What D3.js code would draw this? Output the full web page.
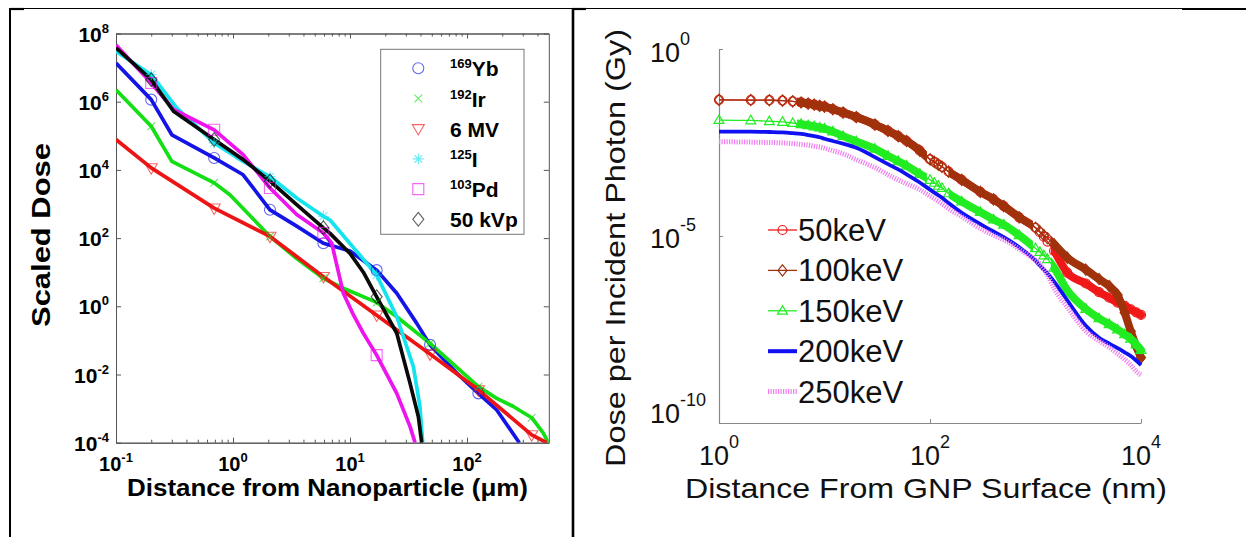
<!DOCTYPE html>
<html>
<head>
<meta charset="utf-8">
<script src="https://cdnjs.cloudflare.com/ajax/libs/d3/7.8.5/d3.min.js"></script>
<style>
  html, body { margin: 0; padding: 0; background: #fff; }
  svg { display: block; }
</style>
</head>
<body>
<svg id="fig" width="1246" height="537"></svg>
<script>
// ---------------- Left panel: scaled dose vs distance from nanoparticle ----------------
const sourceMass = ["169", "192", "", "125", "103", ""];
const sourceName = ["Yb", "Ir", "6 MV", "I", "Pd", "50 kVp"];
const sourceColor = ["#1414e6", "#14de14", "#ec1414", "#14e4ee", "#ee14ee", "#0a0a0a"];
const sourceSymbol = ["circle", "cross", "triangle", "star", "square", "diamond"];

// distance (um), scaled dose
const yb169 = [[0.1,1.35e7],[0.2,1.15e6],[0.30,1.07e5],[0.69,2.24e4],[1.22,7.2e3],[2.07,676],[3.5,224],[5.92,70.8],[10,41.7],[16.9,11.5],[25.1,2.4],[37.2,0.316],[48.3,0.074],[81.7,0.011],[125,2.8e-3],[179.5,9.1e-4],[280,1e-4]];
const ir192 = [[0.1,2.24e6],[0.2,1.9e5],[0.30,1.78e4],[0.69,4.17e3],[0.94,1.86e3],[2.07,112],[3.5,25],[5.92,6.6],[8.77,3.4],[16.9,1.3],[25.1,0.495],[48.3,0.082],[125,4.4e-3],[179.5,2.0e-3],[249,1.15e-3],[357,5.4e-4],[449,1.9e-4],[495,1e-4]];
const mv6 = [[0.1,7.76e4],[0.2,1.15e4],[0.69,759],[2.07,112],[5.92,7.4],[16.9,0.55],[48.3,0.04],[125,3.55e-3],[357,1.7e-4],[480,1e-4]];
const i125 = [[0.1,3.0e7],[0.2,6.2e6],[0.33,6.6e5],[0.69,6.2e4],[1.22,1.78e4],[2.07,6.3e3],[3.5,1.5e3],[5.92,437],[6.75,339],[16.9,8.3],[25.1,0.495],[34.8,0.017],[39.6,1.15e-3],[41.8,1e-4]];
const pd103 = [[0.1,4.6e7],[0.2,3.55e6],[0.31,5.9e5],[0.69,1.5e5],[1.22,2.8e4],[2.07,2.95e3],[3.5,490],[5.92,141],[6.98,70.8],[8.77,2.4],[10.7,0.556],[13.0,0.162],[16.9,0.037],[25.1,2.8e-3],[32.6,2.95e-4],[36.0,1e-4]];
const kvp50 = [[0.1,3.8e7],[0.2,4.42e6],[0.31,5.25e5],[0.69,7.76e4],[1.22,2.0e4],[2.07,4.7e3],[3.5,955],[5.92,200],[6.75,138],[10,35.5],[13,10],[16.9,1.9],[25.1,0.162],[32.6,5.5e-3],[38.4,5.75e-4],[41,1e-4]];
const sourceSeries = [yb169, ir192, mv6, i125, pd103, kvp50];
// sampled distances carrying a symbol
const symbolDist = [0.2, 0.69, 2.07, 5.92, 16.9, 48.3, 125, 357];

const leftXTicks = [0.1, 1, 10, 100];
const leftXExp = ["-1", "0", "1", "2"];
const leftYTicks = [1e8, 1e6, 1e4, 1e2, 1, 1e-2, 1e-4];
const leftYExp = ["8", "6", "4", "2", "0", "-2", "-4"];

// ---------------- Right panel: dose per incident photon vs distance from GNP surface ----------------
const beamLabel = ["50keV", "100keV", "150keV", "200keV", "250keV"];
const beamColor = ["#f01818", "#a0320c", "#22ec22", "#1010f0", "#f07cf0"];
const gnpDistance = [1,2,3,4,5,6,7,8,9,10,12,15,20,30,40,50,60,80,100,110,120,130,150,200,300,400,500,700,1000,1100,1200,1300,1500,2000,3000,4000,5000,6000,7000,8000,9000,10000];
const dose50 = [0.0437,0.0432,0.0427,0.0417,0.0398,0.0372,0.0347,0.0324,0.0302,0.0288,0.0245,0.0200,0.0151,0.00955,0.00646,0.00468,0.00347,0.00191,0.00112,9.55e-4,8.13e-4,7.08e-4,5.25e-4,3.16e-4,1.51e-4,9.55e-5,6.31e-5,3.16e-5,1.66e-5,1.26e-5,9.55e-6,7.08e-6,3.98e-6,1.05e-6,5.37e-7,3.16e-7,2.24e-7,1.66e-7,1.35e-7,1.10e-7,9.12e-8,7.76e-8];
const dose100 = [0.0437,0.0432,0.0427,0.0417,0.0398,0.0372,0.0347,0.0324,0.0302,0.0288,0.0245,0.0200,0.0151,0.00955,0.00646,0.00468,0.00347,0.00191,0.00112,9.55e-4,8.13e-4,7.08e-4,5.25e-4,3.16e-4,1.51e-4,9.55e-5,6.31e-5,3.16e-5,1.66e-5,1.32e-5,1.05e-5,8.71e-6,6.03e-6,2.63e-6,1.26e-6,7.08e-7,4.57e-7,2.63e-7,8.91e-8,2.82e-8,1.12e-8,5.62e-9];
const dose150 = [0.0126,0.0123,0.0117,0.0112,0.0105,0.00977,0.00912,0.00851,0.00794,0.00741,0.00617,0.00468,0.00339,0.00214,0.00138,0.001,7.59e-4,4.57e-4,3.16e-4,2.63e-4,2.19e-4,1.91e-4,1.38e-4,8.32e-5,4.37e-5,2.75e-5,2.0e-5,1.05e-5,4.68e-6,3.72e-6,3.02e-6,2.40e-6,1.41e-6,3.55e-7,1.12e-7,6.31e-8,4.37e-8,3.16e-8,2.34e-8,1.78e-8,1.26e-8,8.91e-9];
const dose200 = [0.00617,0.00617,0.00603,0.00589,0.00562,0.00537,0.00501,0.00468,0.00437,0.00398,0.00347,0.00295,0.00229,0.00129,8.32e-4,6.03e-4,4.47e-4,2.69e-4,1.74e-4,1.45e-4,1.23e-4,1.05e-4,7.59e-5,4.17e-5,2.09e-5,1.32e-5,9.33e-6,5.01e-6,2.19e-6,1.62e-6,1.26e-6,1.0e-6,6.03e-7,1.91e-7,3.98e-8,1.91e-8,1.32e-8,1.0e-8,7.76e-9,6.17e-9,4.68e-9,3.55e-9];
const dose250 = [0.00331,0.00324,0.00316,0.00309,0.00295,0.00282,0.00269,0.00251,0.0024,0.00224,0.00191,0.00158,0.0011,6.76e-4,4.37e-4,3.16e-4,2.51e-4,1.74e-4,1.17e-4,1.0e-4,8.51e-5,7.24e-5,5.37e-5,3.31e-5,1.58e-5,1.05e-5,7.94e-6,4.47e-6,2.24e-6,1.78e-6,1.26e-6,8.91e-7,3.98e-7,1.26e-7,2.88e-8,1.58e-8,1.05e-8,7.08e-9,5.01e-9,3.55e-9,2.40e-9,1.91e-9];
const beamDose = [dose50, dose100, dose150, dose200, dose250];
// distance spans where the sampled markers pile up into a solid band
const bandSpans = [[5.5, 82], [150, 830], [1400, 10000]];

const rightXTicks = [1, 100, 10000];
const rightXExp = ["0", "2", "4"];
const rightYTicks = [1, 1e-5, 1e-10];
const rightYExp = ["0", "-5", "-10"];

// ---------------------------------------------------------------------------------------
const svg = d3.select("#fig");
const FONT = "'Liberation Sans', Arial, Helvetica, sans-serif";

// table rules around the two panels
const rules = svg.append("g").attr("stroke", "#000").attr("fill", "none");
rules.append("line").attr("x1", 10).attr("x2", 1182).attr("y1", 8.5).attr("y2", 8.5).attr("stroke-width", 1.2);
rules.append("line").attr("x1", 1182).attr("x2", 1246).attr("y1", 9).attr("y2", 9).attr("stroke-width", 2.2);
rules.append("line").attr("x1", 10).attr("x2", 24).attr("y1", 9).attr("y2", 9).attr("stroke-width", 2.2);
rules.append("line").attr("x1", 572).attr("x2", 586).attr("y1", 9).attr("y2", 9).attr("stroke-width", 2.2);
rules.append("line").attr("x1", 10).attr("x2", 10).attr("y1", 8).attr("y2", 537).attr("stroke-width", 2);
rules.append("line").attr("x1", 573).attr("x2", 573).attr("y1", 8).attr("y2", 537).attr("stroke-width", 2.6);

// symbol shapes
function symbolPath(kind, s) {
  switch (kind) {
    case "circle": return d3.symbol(d3.symbolCircle, Math.PI * s * s)();
    case "square": return `M${-s},${-s}H${s}V${s}H${-s}Z`;
    case "diamond": return `M0,${-s * 1.25}L${s},0L0,${s * 1.25}L${-s},0Z`;
    case "triangle": return `M${-s * 1.1},${-s * 0.75}L${s * 1.1},${-s * 0.75}L0,${s * 1.15}Z`;
    case "triup": return `M${-s * 1.1},${s * 0.75}L${s * 1.1},${s * 0.75}L0,${-s * 1.15}Z`;
    case "cross": return `M${-s * 0.7},${-s * 0.7}L${s * 0.7},${s * 0.7}M${-s * 0.7},${s * 0.7}L${s * 0.7},${-s * 0.7}`;
    case "star": return `M${-s},0H${s}M0,${-s}V${s}M${-s * 0.7},${-s * 0.7}L${s * 0.7},${s * 0.7}M${-s * 0.7},${s * 0.7}L${s * 0.7},${-s * 0.7}`;
  }
}

// "10" with a raised exponent
function powLabel(g, x, y, exp, o) {
  const t = g.append("text").attr("x", x).attr("y", y).attr("text-anchor", o.anchor)
    .attr("font-family", FONT).attr("font-weight", o.weight).attr("font-size", o.size).attr("fill", o.fill);
  t.append("tspan").text("10");
  t.append("tspan").attr("dy", -o.rise).attr("font-size", o.supSize).text(exp);
  return t;
}

// ================= LEFT PANEL =================
const xL = d3.scaleLog().domain([0.1, 500]).range([116, 548.8]);
const yL = d3.scaleLog().domain([1e-4, 1e8]).range([442.7, 33.5]);
const gl = svg.append("g");

gl.append("defs").append("clipPath").attr("id", "clipL")
  .append("rect").attr("x", xL.range()[0]).attr("y", yL.range()[1])
  .attr("width", xL.range()[1] - xL.range()[0]).attr("height", yL.range()[0] - yL.range()[1]);

// minor x ticks: 2..9 within each decade
const leftMinor = [];
leftXTicks.forEach(d => { for (let k = 2; k <= 9; k++) if (d * k < 500) leftMinor.push(d * k); });

const axisCol = "#555";
function styleAxis(g) {
  g.select(".domain").attr("stroke", axisCol).attr("stroke-width", 1);
  g.selectAll(".tick line").attr("stroke", axisCol).attr("stroke-width", 1);
  g.selectAll(".tick text").remove();
}
gl.append("g").attr("transform", `translate(0,${yL.range()[0]})`)
  .call(d3.axisBottom(xL).tickValues(leftXTicks).tickSizeInner(-5).tickSizeOuter(0).tickFormat(""))
  .call(styleAxis);
gl.append("g").attr("transform", `translate(0,${yL.range()[0]})`)
  .call(d3.axisBottom(xL).tickValues(leftMinor).tickSizeInner(-3).tickSizeOuter(0).tickFormat(""))
  .call(styleAxis);
gl.append("g").attr("transform", `translate(0,${yL.range()[1]})`)
  .call(d3.axisTop(xL).tickValues(leftXTicks).tickSizeInner(-5).tickSizeOuter(0).tickFormat(""))
  .call(styleAxis);
gl.append("g").attr("transform", `translate(0,${yL.range()[1]})`)
  .call(d3.axisTop(xL).tickValues(leftMinor).tickSizeInner(-3).tickSizeOuter(0).tickFormat(""))
  .call(styleAxis);
gl.append("g").attr("transform", `translate(${xL.range()[0]},0)`)
  .call(d3.axisLeft(yL).tickValues(leftYTicks).tickSizeInner(-5).tickSizeOuter(0).tickFormat(""))
  .call(styleAxis);
gl.append("g").attr("transform", `translate(${xL.range()[1]},0)`)
  .call(d3.axisRight(yL).tickValues(leftYTicks).tickSizeInner(-5).tickSizeOuter(0).tickFormat(""))
  .call(styleAxis);

const leftTickStyle = { anchor: "middle", weight: "bold", size: 20, supSize: 13, rise: 9, fill: "#000" };
leftXTicks.forEach((d, i) => powLabel(gl, xL(d), 471, leftXExp[i], leftTickStyle));
leftYTicks.forEach((d, i) => powLabel(gl, 109, yL(d) + 8, leftYExp[i],
  Object.assign({}, leftTickStyle, { anchor: "end", size: 21 })));

// axis titles
gl.append("text").attr("x", 327.5).attr("y", 496).attr("text-anchor", "middle")
  .attr("font-family", FONT).attr("font-weight", "bold").attr("font-size", 23)
  .attr("textLength", 401).attr("lengthAdjust", "spacingAndGlyphs")
  .text("Distance from Nanoparticle (\u03bcm)");
gl.append("text").attr("transform", "translate(50,235) rotate(-90)").attr("text-anchor", "middle")
  .attr("font-family", FONT).attr("font-weight", "bold").attr("font-size", 26)
  .attr("textLength", 184).attr("lengthAdjust", "spacingAndGlyphs")
  .text("Scaled Dose");

// dose curves
const lineL = d3.line().x(d => xL(d[0])).y(d => yL(d[1]));
const plotL = gl.append("g").attr("clip-path", "url(#clipL)");
sourceSeries.forEach((s, i) => {
  plotL.append("path").attr("d", lineL(s)).attr("fill", "none")
    .attr("stroke", sourceColor[i]).attr("stroke-width", 3.7).attr("stroke-linejoin", "round");
});
sourceSeries.forEach((s, i) => {
  const pts = s.filter(p => symbolDist.some(d => Math.abs(d - p[0]) < 1e-9));
  plotL.append("g").selectAll("path").data(pts).join("path")
    .attr("transform", p => `translate(${xL(p[0])},${yL(p[1])})`)
    .attr("d", symbolPath(sourceSymbol[i], 5.5)).attr("fill", "none")
    .attr("stroke", sourceColor[i]).attr("stroke-opacity", 0.65).attr("stroke-width", 1.1);
});

// legend
const legL = gl.append("g");
legL.append("rect").attr("x", 380.7).attr("y", 49.3).attr("width", 143.3).attr("height", 185)
  .attr("fill", "#fff").attr("stroke", "#777").attr("stroke-width", 1);
sourceName.forEach((name, i) => {
  const cy = 68.3 + i * 30.2;
  legL.append("path").attr("transform", `translate(418.3,${cy})`)
    .attr("d", symbolPath(sourceSymbol[i], 5.5)).attr("fill", "none")
    .attr("stroke", sourceColor[i]).attr("stroke-opacity", 0.65).attr("stroke-width", 1.1);
  const t = legL.append("text").attr("x", 450).attr("y", cy + 8)
    .attr("font-family", FONT).attr("font-weight", "bold").attr("font-size", 21);
  if (sourceMass[i]) {
    t.append("tspan").attr("dy", -8).attr("font-size", 13).text(sourceMass[i]);
    t.append("tspan").attr("dy", 8).text(name);
  } else {
    t.append("tspan").text(name);
  }
});

// ================= RIGHT PANEL =================
const xR = d3.scaleLog().domain([1, 1e4]).range([719, 1141]);
const yR = d3.scaleLog().domain([1e-10, 1]).range([423, 49]);
const gr = svg.append("g");
const axisColR = "#888";
function styleAxisR(g) {
  g.select(".domain").attr("stroke", axisColR).attr("stroke-width", 1.2);
  g.selectAll(".tick line").attr("stroke", axisColR).attr("stroke-width", 1);
  g.selectAll(".tick text").remove();
}
gr.append("g").attr("transform", `translate(0,${yR.range()[0]})`)
  .call(d3.axisBottom(xR).tickValues(rightXTicks).tickSizeInner(-4).tickSizeOuter(0).tickFormat(""))
  .call(styleAxisR);
gr.append("g").attr("transform", `translate(${xR.range()[0]},0)`)
  .call(d3.axisLeft(yR).tickValues(rightYTicks).tickSizeInner(-4).tickSizeOuter(0).tickFormat(""))
  .call(styleAxisR);

const rightTickStyle = { anchor: "middle", weight: "normal", size: 27, supSize: 18, rise: 17, fill: "#111" };
rightXTicks.forEach((d, i) => powLabel(gr, xR(d), 465, rightXExp[i], rightTickStyle));
// the lowest y label sits raised, clear of the x labels
const rightYLift = [12.5, 12, 0];
rightYTicks.forEach((d, i) => powLabel(gr, 650, yR(d) + rightYLift[i], rightYExp[i],
  Object.assign({}, rightTickStyle, { anchor: "start" })));

gr.append("text").attr("x", 926).attr("y", 498).attr("text-anchor", "middle")
  .attr("font-family", FONT).attr("font-size", 28).attr("fill", "#111")
  .attr("textLength", 482).attr("lengthAdjust", "spacingAndGlyphs")
  .text("Distance From GNP Surface (nm)");
gr.append("text").attr("transform", "translate(625,248) rotate(-90)").attr("text-anchor", "middle")
  .attr("font-family", FONT).attr("font-size", 28).attr("fill", "#111")
  .attr("textLength", 438).attr("lengthAdjust", "spacingAndGlyphs")
  .text("Dose per Incident Photon (Gy)");

const beamSymbol = ["circle", "diamond", "triup", null, null];
const lineR = d3.line().curve(d3.curveMonotoneX)
  .x(d => xR(d[0])).y(d => yR(d[1]));
const defsR = gr.append("defs");
defsR.append("clipPath").attr("id", "bandClip").selectAll("rect").data(bandSpans).join("rect")
  .attr("x", d => xR(d[0])).attr("width", d => xR(d[1]) - xR(d[0]) + 6)
  .attr("y", 0).attr("height", 537);

beamDose.forEach((vals, i) => {
  const pts = gnpDistance.map((d, k) => [d, vals[k]]);
  const path = lineR(pts);
  const g = gr.append("g");
  if (beamSymbol[i]) {
    g.append("path").attr("d", path).attr("fill", "none").attr("stroke", beamColor[i])
      .attr("stroke-width", 8).attr("stroke-linecap", "round").attr("clip-path", "url(#bandClip)");
    g.append("path").attr("d", path).attr("fill", "none").attr("stroke", beamColor[i]).attr("stroke-width", 1.3);
    g.selectAll(".m").data(pts).join("path").attr("class", "m")
      .attr("transform", p => `translate(${xR(p[0])},${yR(p[1])})`)
      .attr("d", symbolPath(beamSymbol[i], 4.5)).attr("fill", "none")
      .attr("stroke", beamColor[i]).attr("stroke-width", 1.2);
  } else if (i === 3) {
    g.append("path").attr("d", path).attr("fill", "none").attr("stroke", beamColor[i]).attr("stroke-width", 3.8);
  } else {
    g.append("path").attr("d", path).attr("fill", "none").attr("stroke", beamColor[i])
      .attr("stroke-width", 5).attr("stroke-dasharray", "1.2,1.3");
  }
});

// legend
beamLabel.forEach((lab, i) => {
  const cy = 230 + i * 40.4;
  const g = gr.append("g");
  if (i === 4) {
    g.append("line").attr("x1", 768).attr("x2", 797).attr("y1", cy).attr("y2", cy)
      .attr("stroke", beamColor[i]).attr("stroke-width", 5).attr("stroke-dasharray", "1.2,1.3");
  } else {
    g.append("line").attr("x1", 768).attr("x2", 797).attr("y1", cy).attr("y2", cy)
      .attr("stroke", beamColor[i]).attr("stroke-width", i === 3 ? 4 : 1.3);
  }
  if (beamSymbol[i]) {
    g.append("path").attr("transform", `translate(782.5,${cy})`)
      .attr("d", symbolPath(beamSymbol[i], 4.5)).attr("fill", "none")
      .attr("stroke", beamColor[i]).attr("stroke-width", 1.2);
  }
  g.append("text").attr("x", 798).attr("y", cy + 11).attr("font-family", FONT)
    .attr("font-size", 31).attr("fill", "#111").text(lab);
});
</script>
</body>
</html>
